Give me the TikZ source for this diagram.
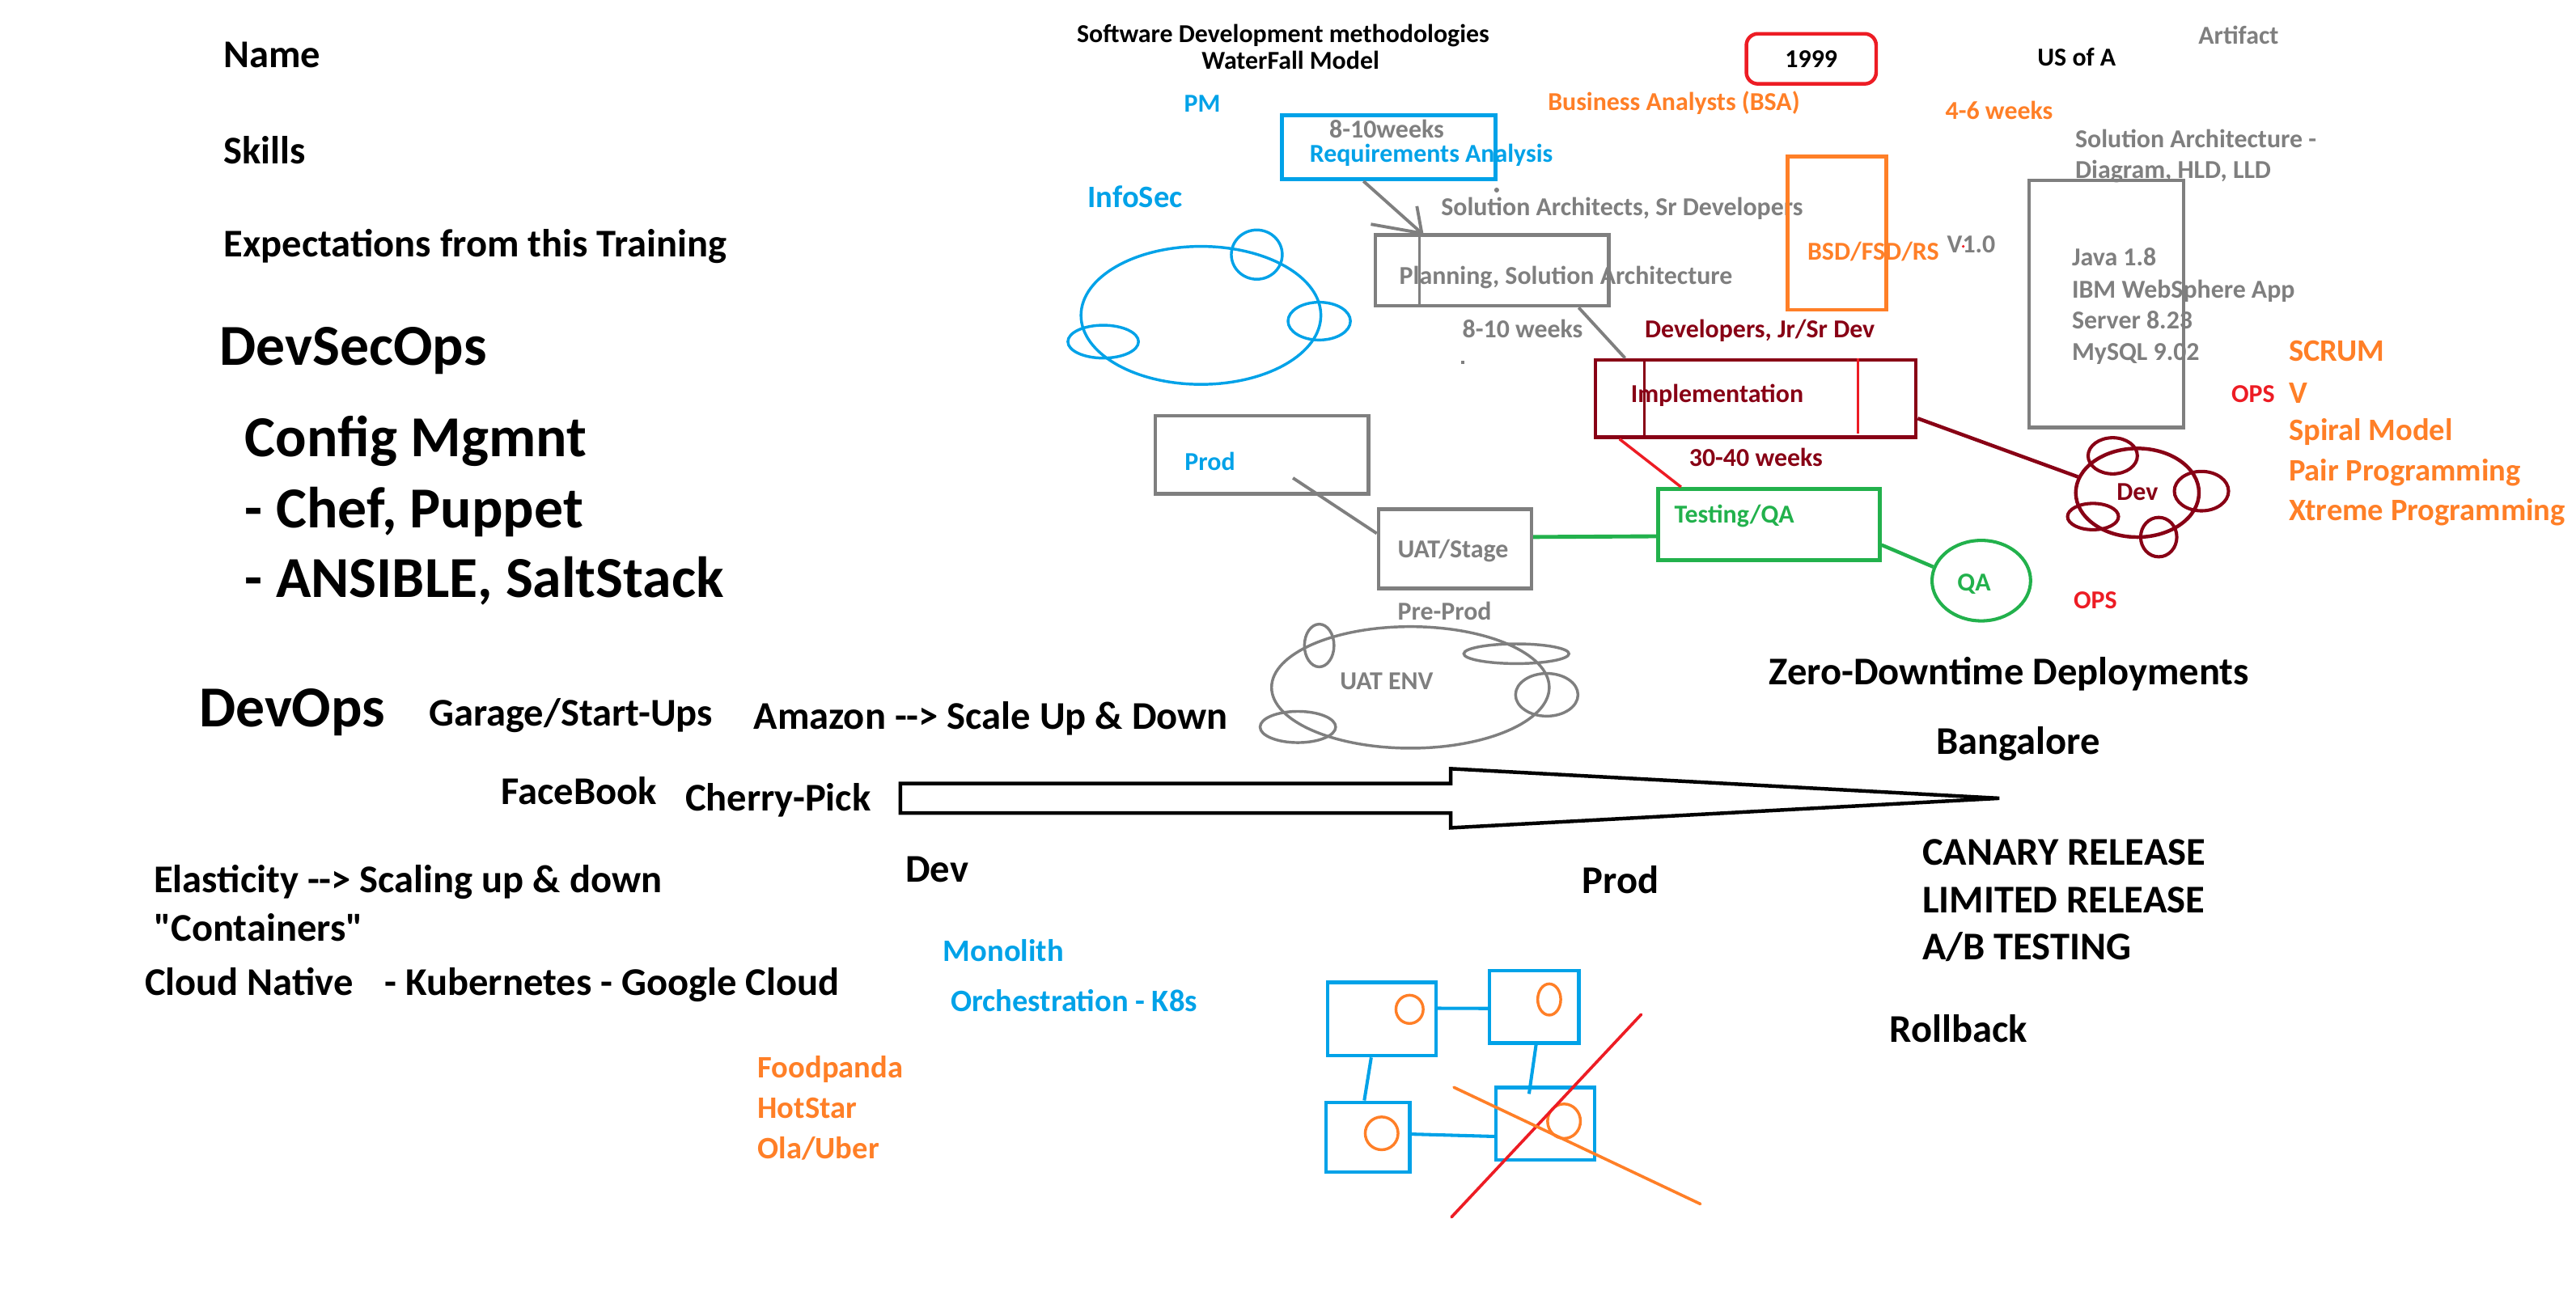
\documentclass[tikz,border=0pt]{standalone}
\usepackage{fontspec}
\setmainfont{Carlito}[Ligatures=TeXOff]
\usetikzlibrary{shapes.geometric,calc}
\definecolor{pblue}{RGB}{0,162,232}
\definecolor{pgray}{RGB}{127,127,127}
\definecolor{porange}{RGB}{255,127,39}
\definecolor{pred}{RGB}{237,28,36}
\definecolor{pdred}{RGB}{136,0,21}
\definecolor{pgreen}{RGB}{34,177,76}
\newcommand\szH{\fontsize{35.3}{40}\selectfont}
\newcommand\szN{\fontsize{23.9}{28}\selectfont}
\newcommand\szM{\fontsize{19}{23}\selectfont}
\newcommand\szS{\fontsize{15.7}{19}\selectfont}
\begin{document}
\begin{tikzpicture}[x=1pt,y=-1pt,
  tH/.style={anchor=base west,inner sep=0,font=\bfseries\szH,yshift=-10.5pt},
  tN/.style={anchor=base west,inner sep=0,font=\bfseries\szN,yshift=-7pt},
  tM/.style={anchor=base west,inner sep=0,font=\bfseries\szM,yshift=-5.7pt},
  tS/.style={anchor=base west,inner sep=0,font=\bfseries\szS,yshift=-4.7pt},
  box/.style={draw,inner sep=0,anchor=north west,line width=2.3pt},
  kbox/.style={draw=pblue,inner sep=0,anchor=north west,line width=2.1pt},
  cl/.style={line width=1.7pt},
  link/.style={line width=1.9pt},
  blob/.style={ellipse,inner sep=0}]
\fill[white] (0,0) rectangle (1568,788);
\useasboundingbox (0,0) rectangle (1568,788);

% ---------- left column ----------
\node[tN] (name) at (136,34) {Name};
\node[tN] (skills) at (136,92.7) {Skills};
\node[tN] (expect) at (136,149.5) {Expectations from this Training};
\node[tH] (devsecops) at (133.6,212) {DevSecOps};
\node[tH] (config) at (149,267.6) {Config Mgmnt};
\node[tH] (chef) at (149,311) {- Chef, Puppet};
\node[tH] (ansible) at (149,353) {- ANSIBLE, SaltStack};
\node[tH] (devops) at (121,432) {DevOps};
\node[tN] (garage) at (261,435) {Garage/Start-Ups};
\node[tN] (amazon) at (458.6,437) {Amazon --> Scale Up \& Down};
\node[tN] (facebook) at (305,482.6) {FaceBook};
\node[tN] (cherry) at (417,486.6) {Cherry-Pick};
\node[tN] (elastic) at (93.5,536.6) {Elasticity --> Scaling up \& down};
\node[tN] (containers) at (93.5,566) {"Containers"};
\node[tN] (cloudnative) at (88,599) {Cloud Native};
\node[tN] (kube) at (234,599) {- Kubernetes - Google Cloud};
\node[tN] (devlbl) at (551,530) {Dev};
\node[tN] (prodlbl) at (963,537) {Prod};
\node[tM,pblue] (monolith) at (574,579.5) {Monolith};
\node[tM,pblue] (orch) at (578.6,610) {Orchestration - K8s};
\node[tM,porange] (food) at (461,650.7) {Foodpanda};
\node[tM,porange] (hot) at (461,675) {HotStar};
\node[tM,porange] (ola) at (461,699.5) {Ola/Uber};

% ---------- right texts ----------
\node[tN] (zero) at (1076.6,410) {Zero-Downtime Deployments};
\node[tN] (bang) at (1178.5,452) {Bangalore};
\node[tN] (canary) at (1170,519.5) {CANARY RELEASE};
\node[tN] (limited) at (1170,548.6) {LIMITED RELEASE};
\node[tN] (ab) at (1170,577.5) {A/B TESTING};
\node[tN] (rollback) at (1150,627.6) {Rollback};

% ---------- top ----------
\node[tS,anchor=base] (sdm) at (781,21) {Software Development methodologies};
\node[tS,anchor=base] (wf) at (785.5,37.4) {WaterFall Model};
\node[tS,pblue] (pm) at (720.6,63.7) {PM};
\node[tS,porange] (bsa) at (942,62.4) {Business Analysts (BSA)};
\node[draw=pred,line width=2.2pt,rounded corners=7pt,minimum width=79,minimum height=30.5,inner sep=0,font=\bfseries\szS] (yearbox) at (1102.5,35.8) {1999};
\node[tS] (usa) at (1240,35.3) {US of A};
\node[tS,pgray] (artifact) at (1338,22) {Artifact};
\node[tS,porange] (w46) at (1184,68) {4-6 weeks};
\node[tS,pgray] (solarch) at (1263,85.4) {Solution Architecture -};
\node[tS,pgray] (diag) at (1263,104) {Diagram, HLD, LLD};

% ---------- waterfall boxes ----------
\node[box,pblue,minimum width=130,minimum height=39] (req) at (779,69) {};
\node[tS,pgray] (w810a) at (809,79.5) {8-10weeks};
\node[tS,pblue] (reqlbl) at (797,94) {Requirements Analysis};
\node[tS,pgray] (solarchs) at (877,126.4) {Solution Architects, Sr Developers};
\node[box,pgray,minimum width=142,minimum height=43] (plan) at (836,142) {};
\node[tS,pgray] (planlbl) at (851.6,168.3) {Planning, Solution Architecture};
\node[box,porange,minimum width=60,minimum height=93.5] (bsd) at (1087,94) {};
\node[tS,porange] (bsdlbl) at (1100,153.6) {BSD/FSD/RS};
\node[tS,pgray] (v10) at (1185,149) {V1.0};
\node[box,pgray,minimum width=94,minimum height=150.3] (java) at (1234,108.7) {};
\node[tS,pgray] (j1) at (1261,157) {Java 1.8};
\node[tS,pgray] (j2) at (1261,177) {IBM WebSphere App};
\node[tS,pgray] (j3) at (1261,195.7) {Server 8.23};
\node[tS,pgray] (j4) at (1261,214.8) {MySQL 9.02};
\node[tS,pgray] (w810b) at (890,201) {8-10 weeks};
\node[tS,pdred] (devs) at (1001,201) {Developers, Jr/Sr Dev};
\node[box,pdred,minimum width=195,minimum height=47] (impl) at (970,218) {};
\node[tS,pdred] (impllbl) at (992.5,240.5) {Implementation};
\node[tS,pdred] (w3040) at (1028,279) {30-40 weeks};
\node[box,pgray,minimum width=130,minimum height=47.6] (prodbox) at (702,252) {};
\node[tS,pblue] (prodlbl2) at (721,281.6) {Prod};
\node[box,pgray,minimum width=93,minimum height=48.3] (uat) at (838,308.7) {};
\node[tS,pgray] (uatlbl) at (850.6,335) {UAT/Stage};
\node[box,pgreen,minimum width=135,minimum height=43.5] (test) at (1008,296.5) {};
\node[tS,pgreen] (testlbl) at (1019,313.7) {Testing/QA};
\node[tS,pgray] (preprod) at (850.6,372.7) {Pre-Prod};
\node[tM,pblue] (infosec) at (662,120.7) {InfoSec};
\node[tS,pred] (ops1) at (1358,240.5) {OPS};
\node[tS,pred] (ops2) at (1262,366) {OPS};
\node[tM,porange] (scrum) at (1393,214) {SCRUM};
\node[tM,porange] (vmodel) at (1393,240) {V};
\node[tM,porange] (spiral) at (1393,262.6) {Spiral Model};
\node[tM,porange] (pair) at (1393,287) {Pair Programming};
\node[tM,porange] (xp) at (1393,311) {Xtreme Programming};

% extra strokes across boxes
\draw[pgray,cl] ($(plan.north west)+(28,0)$) -- ++(0,45);
\draw[pdred,cl] ($(impl.north west)+(31,1)$) -- ++(0,48.5);
\draw[pred,cl] ($(impl.north west)+(161,0)$) -- ++(0,46);
\fill[pgray] (911,115.7) circle (1.5);
\fill[pgray] (889.5,219.6) rectangle (891.5,221.6);
\fill[pred] (1195,150) circle (0.9);

% ---------- clouds ----------
\node[blob,draw=pblue,line width=1.7pt,minimum width=146,minimum height=84] (info) at (731,192) {};
\draw[pblue,cl] (765,155) ellipse [x radius=15.5,y radius=15];
\draw[pblue,cl] (803,195.5) ellipse [x radius=19,y radius=11.5];
\draw[pblue,cl] (671.5,208) ellipse [x radius=21.5,y radius=10];

\node[blob,draw=pgray,line width=1.7pt,minimum width=169,minimum height=74] (uatenv) at (858.5,418.5) {};
\node[tS,pgray,anchor=base] (uatenvlbl) at (844,415) {UAT ENV};
\draw[pgray,cl] (803,393) ellipse [x radius=9,y radius=13];
\draw[pgray,cl] (923,398) ellipse [x radius=32,y radius=6];
\draw[pgray,cl] (941.5,423) ellipse [x radius=19,y radius=13];
\draw[pgray,cl] (790,442.6) ellipse [x radius=23,y radius=9.5];

\node[blob,draw=pdred,line width=2.2pt,minimum width=75,minimum height=54] (dev) at (1301,300) {};
\node[tS,pdred,anchor=base] (devcl) at (1301,300) {Dev};
\draw[pdred,line width=2pt] (1286,277.5) ellipse [x radius=15,y radius=11];
\draw[pdred,line width=2pt] (1340,299) ellipse [x radius=16.5,y radius=12];
\draw[pdred,line width=2pt] (1274,314.5) ellipse [x radius=15.5,y radius=8];
\draw[pdred,line width=2pt] (1314,327) ellipse [x radius=11,y radius=12];

\node[blob,draw=pgreen,line width=2pt,minimum width=60,minimum height=49] (qa) at (1206,353.5) {};
\node[tS,pgreen,anchor=base] (qalbl) at (1201.6,355) {QA};

% ---------- connectors ----------
\coordinate (reqtip) at ($(plan.north west)!0.204!(plan.north east)$);
\draw[pgray,link] ($(req.south west)!0.385!(req.south east)$) -- (reqtip);
\draw[pgray,link] ($(reqtip)+(-3,-16.5)$) -- (reqtip) -- ($(reqtip)+(-31,-5.5)$);
\draw[pgray,link] ($(plan.south west)!0.866!(plan.south east)$) -- ($(impl.north west)!0.097!(impl.north east)$);
\draw[pred,cl] ($(impl.south west)!0.08!(impl.south east)$) -- ($(test.north west)!0.111!(test.north east)$);
\draw[pdred,line width=2.2pt] ($(impl.north east)!0.745!(impl.south east)$) -- (dev.165);
\draw[pgreen,line width=2.2pt] ($(test.north east)!0.77!(test.south east)$) -- (qa.164);
\draw[pgreen,line width=2.4pt] ($(uat.north east)!0.36!(uat.south east)$) -- ($(test.north west)!0.655!(test.south west)$);
\coordinate (prodin) at (787,291);
\draw[pgray,link] (prodin) -- ($(uat.north west)!0.317!(uat.south west)$);

% ---------- big arrow ----------
\draw[line width=2.2pt,line join=miter] (548,477) -- (883,477) -- (883,468) -- (1217,486) -- (883,504) -- (883,495) -- (548,495) -- cycle;

% ---------- k8s boxes ----------
\node[kbox,minimum width=66,minimum height=44.7] (ka) at (807,597) {};
\node[kbox,minimum width=54.4,minimum height=44] (kb) at (905.6,590) {};
\node[kbox,minimum width=51,minimum height=42.6] (kc) at (806,670) {};
\node[kbox,minimum width=60,minimum height=44] (kd) at (909.6,661) {};
\draw[porange,cl] (858,614.5) ellipse [x radius=8.3,y radius=8.6];
\draw[porange,cl] (943,608.5) ellipse [x radius=7,y radius=9.5];
\draw[porange,cl] (841,690) ellipse [x radius=10,y radius=10];
\draw[porange,cl] (952,682.6) ellipse [x radius=10,y radius=10.5];
\draw[pblue,line width=2pt] ($(ka.north east)!0.36!(ka.south east)$) -- ($(kb.north west)!0.52!(kb.south west)$);
\draw[pblue,line width=2pt] ($(ka.south west)!0.406!(ka.south east)$) -- ($(kc.north west)!0.46!(kc.north east)$);
\draw[pblue,line width=2pt] ($(kb.south west)!0.52!(kb.south east)$) -- ($(kd.north west)!0.34!(kd.north east)+(0,5)$);
\draw[pblue,line width=2pt] ($(kc.north east)!0.458!(kc.south east)$) -- ($(kd.north west)!0.67!(kd.south west)$);
\coordinate (redA) at (883.5,741);
\coordinate (redB) at (999,617.6);
\coordinate (orA) at (885,662);
\coordinate (orB) at (1035,733);
\draw[pred,line width=1.8pt,line cap=round] (redA) -- (redB);
\draw[porange,line width=1.8pt,line cap=round] (orA) -- (orB);
\end{tikzpicture}
\end{document}
